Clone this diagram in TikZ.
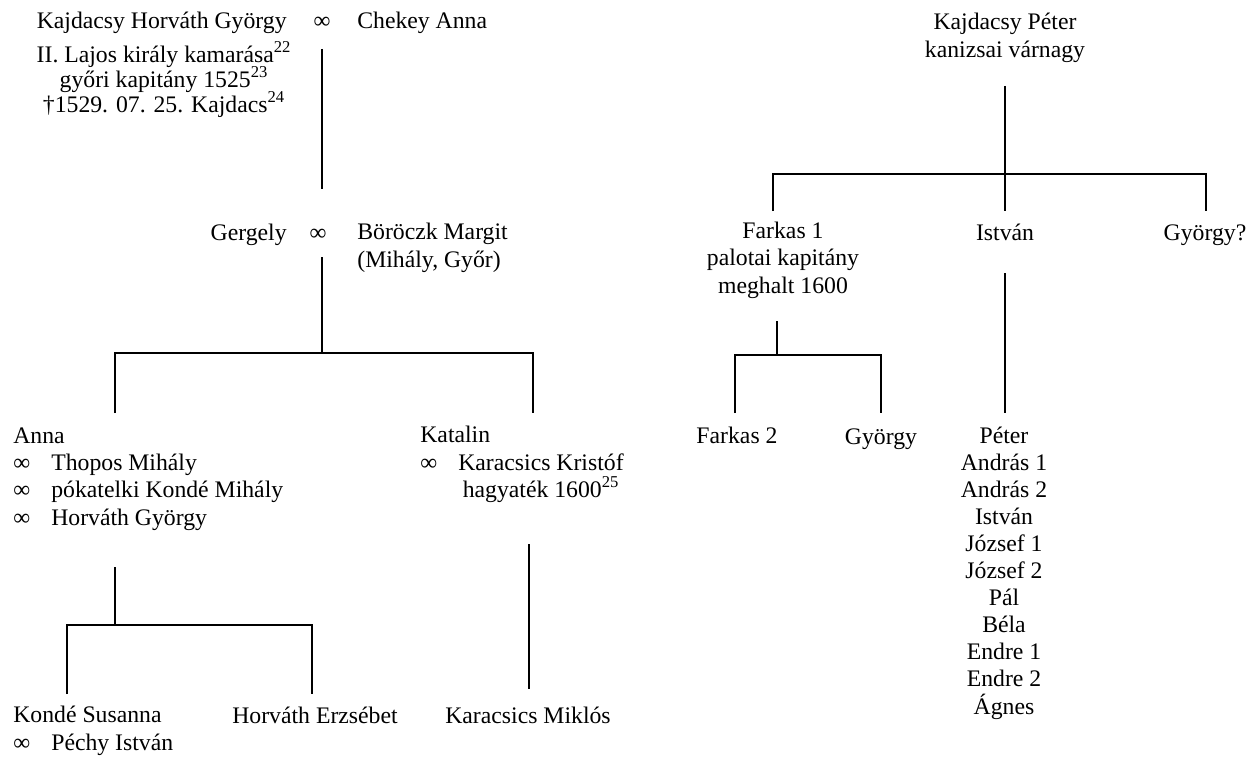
\documentclass[tikz,border=0pt]{standalone}
\usepackage{fontspec}
\setmainfont{Liberation Serif}
\usetikzlibrary{positioning}

\newcommand\marr{\makebox[0.76cm][l]{∞}}
\newcommand\fnote[1]{\smash{\textsuperscript{#1}}}

\tikzset{
  person/.style={inner sep=0pt, font=\fontsize{13.5}{15.4}\selectfont},
  link/.style={line width=0.6pt},
}

\begin{document}
\begin{tikzpicture}[x=0.02cm, y=-0.02cm, every node/.style={person}]
  \useasboundingbox (0,0) rectangle (1247,757);

  % left family (multi-line nodes sit on their last line)
  \node[anchor=mid east] (hgyorgy) at (287,24) {Kajdacsy Horváth György};
  \node[anchor=mid] (inf1) at (322,24) {∞};
  \node[anchor=mid west] (chekey) at (357,24) {Chekey Anna};
  \node[anchor=mid, align=center, font=\fontsize{13.5}{14.2}\selectfont] (hgyorgyinfo) at (164,108)
    {II. Lajos király kamarása\fnote{22}\\győri kapitány 1525\fnote{23}\\†1529. 07. 25. Kajdacs\fnote{24}};

  \node[anchor=mid east] (gergely) at (287,236) {Gergely};
  \node[anchor=mid] (inf2) at (318,236) {∞};
  \node[anchor=mid west, align=left] (margit) at (357,263) {Böröczk Margit\\(Mihály, Győr)};

  \node[anchor=mid west, align=left] (anna) at (13,521)
    {Anna\\\marr Thopos Mihály\\\marr pókatelki Kondé Mihály\\\marr Horváth György};
  \node[anchor=mid west, align=left] (katalin) at (420,466)
    {Katalin\\\marr\begin{tabular}[t]{@{}c@{}}Karacsics Kristóf\\hagyaték 1600\fnote{25}\end{tabular}};

  \node[anchor=mid west, align=left] (kondesus) at (13,746) {Kondé Susanna\\\marr Péchy István};
  \node[anchor=mid] (erzsebet) at (315,719) {Horváth Erzsébet};
  \node[anchor=mid] (miklos) at (528,719) {Karacsics Miklós};

  \coordinate (gyorgydown) at (322,49);
  \coordinate (gergelyup) at (322,189);
  \draw[link] (gyorgydown) -- (gergelyup);

  \coordinate (gergelydown) at (322,257);
  \coordinate (gbar) at (322,353);
  \coordinate (annaup) at (115,413);
  \coordinate (katalinup) at (533,413);
  \draw[link] (gergelydown) -- (gbar);
  \draw[link] (annaup) |- (gbar) -| (katalinup);

  \coordinate (annadown) at (115,567);
  \coordinate (abar) at (115,625);
  \coordinate (kondeup) at (67,694);
  \coordinate (erzsebetup) at (312,694);
  \draw[link] (annadown) -- (abar);
  \draw[link] (kondeup) |- (abar) -| (erzsebetup);

  \coordinate (katalindown) at (529,544);
  \coordinate (miklosup) at (529,689);
  \draw[link] (katalindown) -- (miklosup);

  % right family
  \node[anchor=mid, align=center] (kpeter) at (1005,53) {Kajdacsy Péter\\kanizsai várnagy};

  \node[anchor=mid, align=center] (farkas1) at (783,289) {Farkas 1\\palotai kapitány\\meghalt 1600};
  \node[anchor=mid] (istvan) at (1005,236) {István};
  \node[anchor=mid] (gyorgyq) at (1205,236) {György?};

  \node[anchor=mid] (farkas2) at (737,439) {Farkas 2};
  \node[anchor=mid] (gyorgy2) at (881,440) {György};
  \node[anchor=mid, align=center] (istvankids) at (1004,710)
    {Péter\\András 1\\András 2\\István\\József 1\\József 2\\Pál\\Béla\\Endre 1\\Endre 2\\Ágnes};

  \coordinate (kpeterdown) at (1005,86);
  \coordinate (pbar) at (1005,174);
  \coordinate (farkasup) at (773,211);
  \coordinate (istvanup) at (1005,211);
  \coordinate (gyorgyqup) at (1206,211);
  \draw[link] (kpeterdown) -- (istvanup);
  \draw[link] (farkasup) |- (pbar) -| (gyorgyqup);

  \coordinate (farkasdown) at (777,321);
  \coordinate (fbar) at (777,355);
  \coordinate (farkas2up) at (735,413);
  \coordinate (gyorgy2up) at (881,413);
  \draw[link] (farkasdown) -- (fbar);
  \draw[link] (farkas2up) |- (fbar) -| (gyorgy2up);

  \coordinate (istvandown) at (1005,273);
  \coordinate (kidsup) at (1005,413);
  \draw[link] (istvandown) -- (kidsup);
\end{tikzpicture}
\end{document}
